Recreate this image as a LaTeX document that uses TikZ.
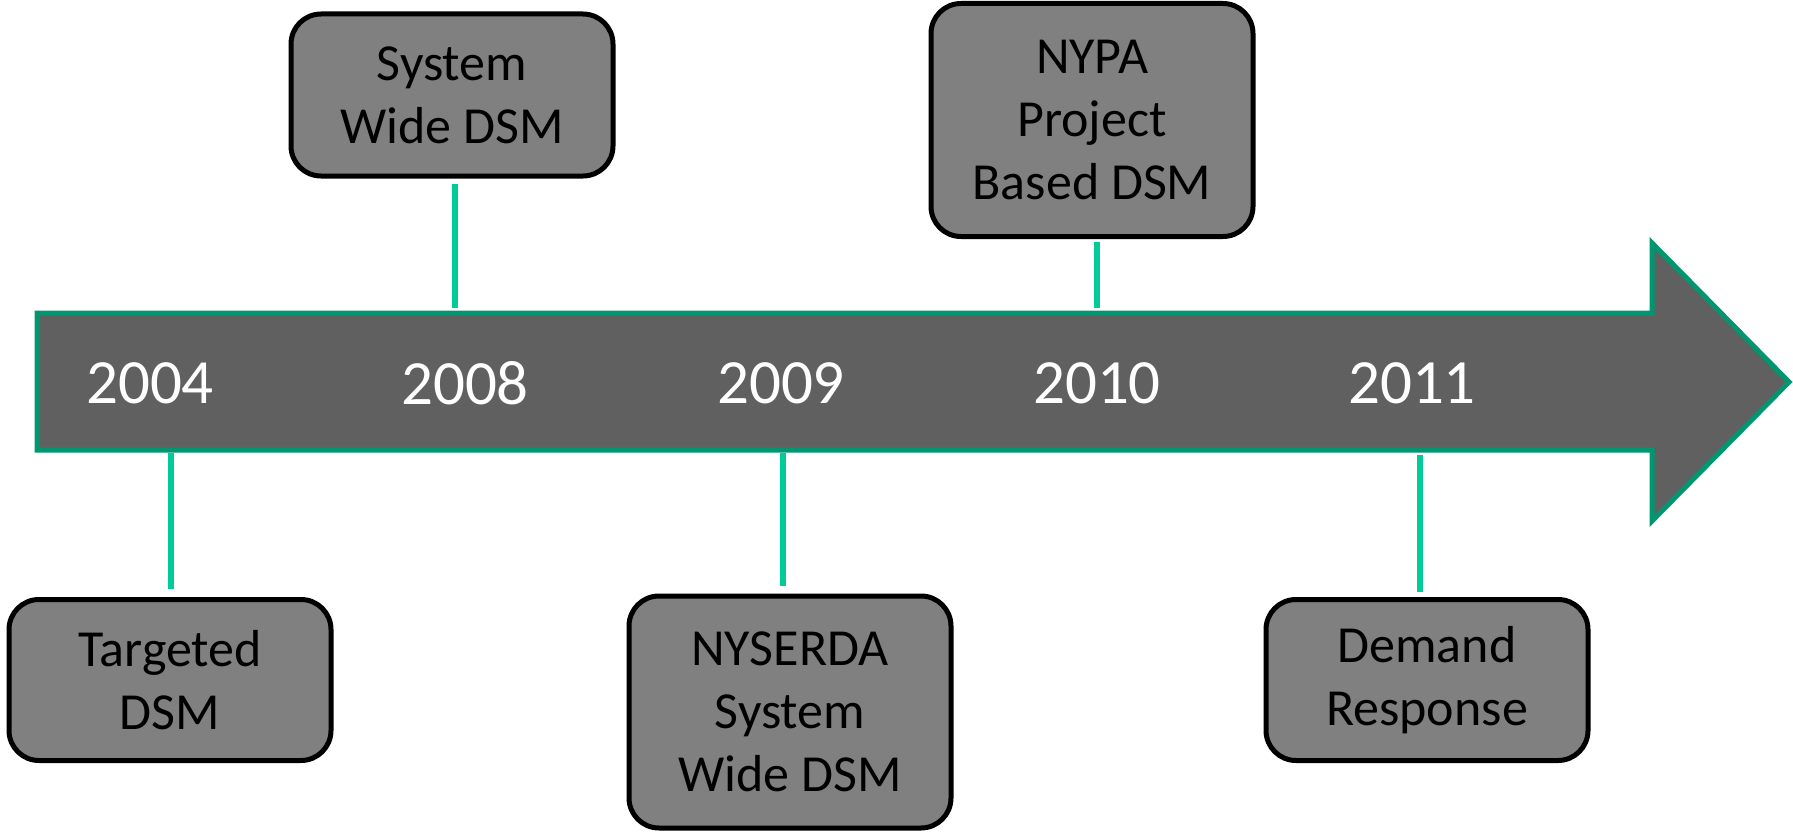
\documentclass[tikz,border=0pt]{standalone}
\usepackage{fontspec}
\setmainfont{Carlito}
\usetikzlibrary{positioning}
\definecolor{arrowgray}{HTML}{606060}
\definecolor{arrowgreen}{HTML}{009670}
\definecolor{linkteal}{HTML}{00CC99}
\definecolor{boxgray}{HTML}{808080}

\begin{document}
\begin{tikzpicture}[x=1pt, y=-1pt,
  event/.style={draw=black, line width=5pt, fill=boxgray, rounded corners=30pt, align=center, minimum width=322pt, inner sep=0pt, font=\fontsize{52}{63}\selectfont},
  year/.style={text=white, inner sep=0pt, font=\fontsize{63}{70}\selectfont},
  link/.style={draw=linkteal, line width=6pt}]
\useasboundingbox (0,0) rectangle (1793,832);

% timeline arrow
\draw[arrowgreen, fill=arrowgray, line width=5pt] (37,313) -- (1652,313) -- (1652,243) -- (1789,382) -- (1652,521) -- (1652,450) -- (37,450) -- cycle;

% years
\node[year] (y2004) at (150,383) {2004};
\node[year] (y2008) at (465,383) {2008};
\node[year] (y2009) at (781,383) {2009};
\node[year] (y2010) at (1097,383) {2010};
\node[year] (y2011) at (1412,383) {2011};

% events
\node[event, minimum height=161pt] (targeted) at (170,680) {Targeted\\DSM};
\node[event, minimum height=162pt] (syswide) at (452,95) {System\\Wide DSM};
\node[event, minimum height=232pt] (nyserda) at (790,712) {NYSERDA\\System\\Wide DSM};
\node[event, minimum height=233pt] (nypa) at (1092,120) {NYPA\\Project\\Based DSM};
\node[event, minimum height=161pt] (demand) at (1427,680) {Demand\\Response};

% where the links meet the arrow
\coordinate (p2004) at (171,453);
\coordinate (p2008) at (455,308);
\coordinate (p2009) at (783,453);
\coordinate (p2010) at (1097,308);
\coordinate (p2011) at (1420,455);

\draw[link, shorten <=8pt] (targeted.north -| p2004) -- (p2004);
\draw[link, shorten <=5pt] (syswide.south -| p2008) -- (p2008);
\draw[link, shorten <=8pt] (nyserda.north -| p2009) -- (p2009);
\draw[link, shorten <=3pt] (nypa.south -| p2010) -- (p2010);
\draw[link, shorten <=5pt] (demand.north -| p2011) -- (p2011);
\end{tikzpicture}
\end{document}
